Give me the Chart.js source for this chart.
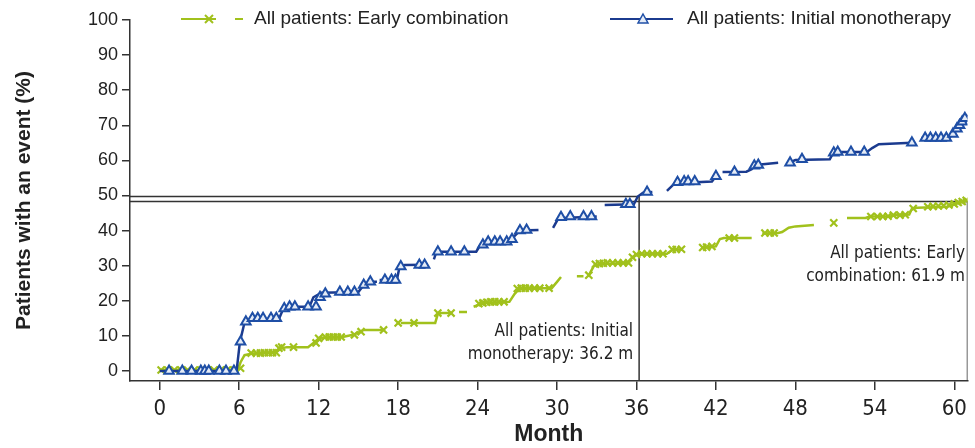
<!DOCTYPE html>
<html>
<head>
<meta charset="utf-8">
<script src="https://cdn.jsdelivr.net/npm/chart.js@4.4.1/dist/chart.umd.min.js"></script>
<style>
  html, body { margin: 0; padding: 0; background: #fff; }
  #wrap { width: 975px; height: 448px; }
</style>
</head>
<body>
<div id="wrap"><canvas id="kmChart"></canvas></div>
<script>
// axis ticks
const xTicks = [0, 6, 12, 18, 24, 30, 36, 42, 48, 54, 60];
const yTicks = [0, 10, 20, 30, 40, 50, 60, 70, 80, 90, 100];
const xMin = -2.25, xMax = 61;
const yMin = -2.85, yMax = 100;

const seriesNames = ['All patients: Early combination', 'All patients: Initial monotherapy'];

// Initial monotherapy: cumulative event curve (null = gap in drawn line)
const monoMonths = [0, 5.8, 6.05, 6.4, 6.8, 9.0, 9.3, 9.6, 11.3, 11.6, 12.2, 15.0, 15.4, 15.8, 16.4, 16.5,
  16.6, 17.9, 18.1, 18.5, 20.2, 20.45, 20.7, 20.9, 23.9, 24.2, 24.6, 26.4, 26.8, 27.2, 28.6, 29.1,
  29.7, 30.1, 33.0, 33.3, 33.6, 35.8, 36.1, 36.5, 37.2, 37.7, 38.3, 38.9, 41.7, 42.0, 42.2,
  42.5, 44.3, 44.7, 45.0, 46.7, 47.1, 47.5, 48.0, 50.6, 50.9, 53.4, 53.8, 54.3, 56.8, 57.1,
  57.5, 59.6, 60.0, 60.4, 60.7, 61.0];
const monoPct = [0, 0, 8.3, 13.8, 14.6, 14.8, 17.5, 18.3, 18.3, 21, 22.3, 22.5, 24.5, 25.4, 25.4, null,
  25.9, 25.9, 29.5, 30.2, 30.3, null, 31.8, 34, 34, 35.9, 36.8, 36.8, 38.5, 40, 40.2, null,
  40.8, 43.5, 44, null, 47.3, 47.5, 49.7, 50.8, 51.0, null, 51.3, 53.5, 54, 55.5, null,
  56.7, 56.8, 57.5, 58.7, 59.3, null, 59.3, 60.1, 60.3, 62.4, 62.4, 63.5, 64.6, 65, null,
  66.4, 66.4, 67.8, 70, 72, 73];
// Initial monotherapy: censoring marks
const monoCensorMonths = [0.7, 1.7, 2.4, 3.1, 3.4, 3.7, 4.5, 5.0, 5.6,
  6.1, 6.5, 7.0, 7.4, 7.8, 8.4, 8.8, 9.4, 9.8, 10.2, 11.2, 11.8,
  12.1, 12.5, 13.6, 14.2, 14.7, 15.4, 15.9, 17.0, 17.5, 17.8,
  18.2, 19.6, 20.0, 21.0, 22.0, 23.0, 24.4, 24.8, 25.3, 25.7, 26.2, 26.6, 27.2, 27.7,
  30.3, 31.0, 32.0, 32.6, 35.2, 35.5, 36.8, 39.1, 39.6, 39.9, 40.4, 42.0, 43.4, 44.9, 45.2,
  47.6, 48.5, 50.9, 51.2, 52.2, 53.2, 56.8, 57.8, 58.2, 58.6, 59.0, 59.4, 59.9, 60.2, 60.4, 60.6, 60.8];
const monoCensorPct = [0, 0, 0, 0, 0, 0, 0, 0, 0,
  8.3, 14, 15, 15, 15, 15, 15, 17.8, 18.3, 18.3, 18.3, 18.3,
  21, 22, 22.5, 22.5, 22.5, 24.5, 25.4, 25.9, 25.9, 25.9,
  29.8, 30.2, 30.2, 34, 34, 34, 36, 36.8, 36.8, 36.8, 36.8, 37.5, 40, 40.2,
  43.8, 44, 44, 44, 47.5, 47.5, 51, 53.8, 54, 54, 54, 55.5, 56.7, 58.5, 58.7,
  59.3, 60.3, 62.2, 62.4, 62.4, 62.4, 65, 66.4, 66.4, 66.4, 66.4, 66.4, 67.5, 69, 70, 71, 72];

// Early combination: cumulative event curve
const comboMonths = [0, 5.9, 6.1, 6.4, 7.0, 8.5, 9.2, 9.6, 11.2, 11.7, 12.1, 13.8, 14.6, 15.2, 15.4, 16.9, 17.5,
  18.2, 20.8, 21.0, 21.3, 22.1, 22.35, 22.6, 23.2, 23.45, 23.7, 24.2, 24.6, 26.4, 26.8, 27.2, 29.6, 30.0, 30.3, 30.9,
  31.5, 32.0, 32.2, 32.4, 32.8, 33.4, 35.3, 35.7, 36.1, 38.3, 38.7, 39.5, 40.2,
  41.0, 42.0, 42.3, 42.6, 44.7, 45.1, 45.5, 46.7, 47.0, 47.5, 48.0, 49.4, 50.6,
  51.9, 53.3, 53.6, 55.2, 55.4, 56.6, 56.8, 57.2, 59.5, 60.0, 60.5, 61.0];
const comboPct = [0.3, 0.3, 2.5, 4.5, 5, 5.2, 6.5, 6.8, 6.8, 8.3, 9.5, 9.7, 10.3, 11.3, 11.7, 11.7, null,
  13.7, 13.7, 16.3, 16.5, 16.5, null, 16.8, 16.8, null, 18.3, 19, 19.4, 19.7, 22, 23.6, 23.6, 25.4, 26.8, null,
  27, 27, null, 27.3, 30, 30.5, 30.8, 32.4, 33.2, 33.4, 34.5, 34.7, null,
  35.2, 35.5, 37.6, 37.9, 37.9, null, 39.2, 39.3, 39.6, 40.8, 41.2, 41.6, null,
  43.6, 43.6, 44, 44.1, 44.4, 44.6, 46.2, 46.5, 46.8, 47.5, 48.3, 48.7];
// Early combination: censoring marks
const comboCensorMonths = [0.1, 0.6, 1.1, 1.6, 2.1, 2.6, 3.1, 3.6, 4.1, 4.6, 5.1, 5.6, 6.1,
  6.9, 7.3, 7.6, 7.9, 8.2, 8.5, 8.8, 9.0, 9.2, 10.1, 11.8, 12.0, 12.5, 12.8, 13.1, 13.4, 13.7, 14.7, 15.2, 16.9,
  18.0, 19.2, 21.0, 22.0, 24.1, 24.4, 24.7, 25.0, 25.3, 25.6, 26.0, 27.0, 27.3, 27.6, 27.9, 28.3, 28.7, 29.4,
  32.4, 32.9, 33.2, 33.5, 33.8, 34.2, 34.6, 35.0, 35.4, 35.7, 36.0, 36.4, 36.8, 37.2, 37.6, 38.0,
  38.7, 39.0, 39.4, 41.0, 41.3, 41.7, 43.0, 43.4, 45.7, 46.1, 46.4, 50.9,
  53.7, 54.2, 54.6, 55.0, 55.4, 55.9, 56.3, 56.9, 58.0, 58.4, 58.8, 59.2, 59.6, 60.0, 60.3, 60.6, 60.9];
const comboCensorPct = [0.3, 0.3, 0.3, 0.3, 0.3, 0.3, 0.3, 0.3, 0.3, 0.3, 0.3, 0.3, 0.8,
  5.1, 5.1, 5.1, 5.2, 5.2, 5.2, 5.2, 6.5, 6.8, 6.8, 8.0, 9.3, 9.7, 9.7, 9.7, 9.7, 9.7, 10.3, 11.2, 11.7,
  13.7, 13.7, 16.5, 16.5, 19.2, 19.4, 19.6, 19.7, 19.7, 19.7, 19.7, 23.5, 23.6, 23.6, 23.6, 23.6, 23.6, 23.6,
  27.3, 30.4, 30.6, 30.7, 30.8, 30.8, 30.8, 30.8, 30.8, 32.4, 33.2, 33.4, 33.4, 33.4, 33.4, 33.4,
  34.6, 34.6, 34.7, 35.2, 35.3, 35.5, 37.9, 37.9, 39.3, 39.3, 39.3, 42.2,
  44, 44, 44, 44.1, 44.4, 44.4, 44.5, 46.3, 46.8, 46.9, 47.0, 47.1, 47.3, 47.6, 48.0, 48.3, 48.6];

// medians (month) and the level each median line is drawn at
const medianMonths = [61.9, 36.2];
const medianLevels = [48.3, 49.7];
const medianNotes = [['All patients: Early', 'combination: 61.9 m'], ['All patients: Initial', 'monotherapy: 36.2 m']];

const blueLine = '#1b3b8f';
const blueMark = '#1f4fa6';
const blueFill = '#e4ebf6';
const greenCol = '#a1c11c';
const axisCol = '#333333';

const toPoints = (xs, ys) => xs.map((x, i) => ({ x: x, y: ys[i] }));
const medianPath = (i) => {
  const m = Math.min(medianMonths[i], xMax);
  return [{ x: xMin, y: medianLevels[i] }, { x: m, y: medianLevels[i] }, { x: m, y: yMin }];
};

const baseFont = 'Liberation Sans, Arial, sans-serif';
const narrowFont = 'Liberation Sans Narrow, DejaVu Sans Condensed, Arial, sans-serif';

// legend and median notes drawn by hand
const extrasPlugin = {
  id: 'extras',
  afterDraw(chart) {
    const ctx = chart.ctx;
    const xs = chart.scales.x;
    ctx.save();
    // legend: early combination
    const ly = 19;
    ctx.strokeStyle = greenCol;
    ctx.lineWidth = 2;
    ctx.beginPath(); ctx.moveTo(181, ly); ctx.lineTo(216, ly); ctx.stroke();
    ctx.beginPath();
    ctx.moveTo(205, ly - 4); ctx.lineTo(213, ly + 4);
    ctx.moveTo(213, ly - 4); ctx.lineTo(205, ly + 4);
    ctx.stroke();
    ctx.beginPath(); ctx.moveTo(235, ly); ctx.lineTo(243, ly); ctx.stroke();
    // legend: initial monotherapy
    ctx.strokeStyle = blueLine;
    ctx.beginPath(); ctx.moveTo(610, ly); ctx.lineTo(673, ly); ctx.stroke();
    ctx.strokeStyle = blueMark;
    ctx.fillStyle = blueFill;
    ctx.lineWidth = 1.5;
    ctx.beginPath(); ctx.moveTo(643, ly - 5); ctx.lineTo(648, ly + 4); ctx.lineTo(638, ly + 4); ctx.closePath();
    ctx.fill(); ctx.stroke();

    ctx.fillStyle = '#222';
    ctx.font = '19px ' + baseFont;
    ctx.textBaseline = 'middle';
    ctx.textAlign = 'left';
    ctx.fillText(seriesNames[0], 254, ly);
    ctx.fillText(seriesNames[1], 687, ly);

    // median notes
    ctx.font = '17px ' + narrowFont;
    ctx.textAlign = 'right';
    const xm = xs.getPixelForValue(medianMonths[1]) - 6;
    ctx.fillText(medianNotes[1][0], xm, 332);
    ctx.fillText(medianNotes[1][1], xm, 355);
    ctx.fillText(medianNotes[0][0], 965, 254);
    ctx.fillText(medianNotes[0][1], 965, 277);
    ctx.restore();
  }
};

new Chart(document.getElementById('kmChart').getContext('2d'), {
  type: 'line',
  data: {
    datasets: [
      {
        label: seriesNames[1] + ' censored',
        data: toPoints(monoCensorMonths, monoCensorPct),
        showLine: false,
        pointStyle: 'triangle',
        pointRadius: 5.5,
        pointBorderWidth: 2,
        pointBorderColor: blueMark,
        pointBackgroundColor: blueFill,
        order: 0
      },
      {
        label: seriesNames[1],
        data: toPoints(monoMonths, monoPct),
        borderColor: blueLine,
        borderWidth: 2.5,
        pointRadius: 0,
        spanGaps: false,
        order: 1
      },
      {
        label: seriesNames[0] + ' censored',
        data: toPoints(comboCensorMonths, comboCensorPct),
        showLine: false,
        pointStyle: 'crossRot',
        pointRadius: 5,
        pointBorderWidth: 2.2,
        pointBorderColor: greenCol,
        order: 2
      },
      {
        label: seriesNames[0],
        data: toPoints(comboMonths, comboPct),
        borderColor: greenCol,
        borderWidth: 2.5,
        pointRadius: 0,
        spanGaps: false,
        order: 3
      },
      {
        label: 'median mono',
        data: medianPath(1),
        borderColor: axisCol,
        borderWidth: 1.5,
        pointRadius: 0,
        order: 4
      },
      {
        label: 'median combo',
        data: medianPath(0),
        borderColor: axisCol,
        borderWidth: 1.5,
        pointRadius: 0,
        order: 5
      }
    ]
  },
  options: {
    responsive: true,
    maintainAspectRatio: false,
    animation: false,
    layout: { padding: { top: 20, right: 0, left: 0, bottom: 0 } },
    plugins: {
      legend: { display: false },
      tooltip: { enabled: false }
    },
    scales: {
      x: {
        type: 'linear',
        min: xMin,
        max: xMax,
        afterBuildTicks: (s) => { s.ticks = xTicks.map(v => ({ value: v })); },
        afterFit: (s) => { s.height = 67; },
        grid: { drawOnChartArea: false, tickLength: 9, color: axisCol, lineWidth: 1.5 },
        border: { color: axisCol, width: 1.5 },
        ticks: { color: '#222', padding: 6, maxRotation: 0, font: { family: narrowFont, size: 22 } },
        title: {
          display: true, text: 'Month', color: '#222',
          font: { family: baseFont, size: 23, weight: 'bold' },
          padding: { top: 0, bottom: 0 }
        }
      },
      y: {
        min: yMin,
        max: yMax,
        afterBuildTicks: (s) => { s.ticks = yTicks.map(v => ({ value: v })); },
        afterFit: (s) => { s.width = 130; },
        grid: { drawOnChartArea: false, tickLength: 8, color: axisCol, lineWidth: 1.5 },
        border: { color: axisCol, width: 1.5 },
        ticks: { color: '#222', padding: 4, font: { family: baseFont, size: 18 } },
        title: {
          display: true, text: 'Patients with an event (%)', color: '#222',
          font: { family: baseFont, size: 21, weight: 'bold' },
          padding: { top: 12, bottom: 0 }
        }
      }
    }
  },
  plugins: [extrasPlugin]
});
</script>
</body>
</html>
